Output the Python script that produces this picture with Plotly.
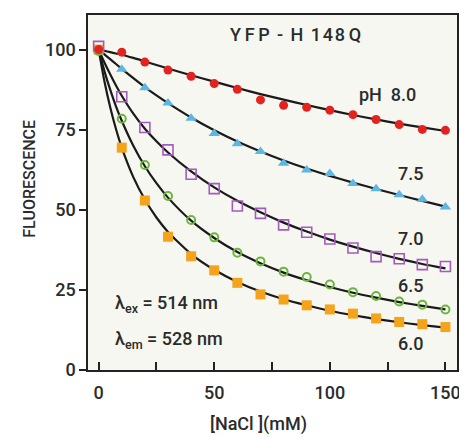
import plotly.graph_objects as go

# ---- data ----
nacl = [0, 10, 20, 30, 40, 50, 60, 70, 80, 90, 100, 110, 120, 130, 140, 150]

ph80 = [100, 99.2, 96.1, 93.6, 91.7, 89.4, 87.6, 84.3, 82.6, 82.0, 81.1, 79.7, 78.2, 76.6, 75.1, 74.8]
ph75 = [100, 93.9, 88.1, 83.3, 78.6, 73.8, 70.6, 68.2, 64.5, 62.4, 61.3, 58.2, 56.6, 54.7, 53.3, 50.9]
ph70 = [101, 85.3, 75.7, 68.7, 61.1, 56.6, 51.2, 48.9, 45.3, 43.0, 40.9, 38.1, 35.4, 34.7, 32.9, 32.3]
ph65 = [99.6, 78.4, 64.0, 54.3, 46.8, 41.4, 36.6, 33.9, 30.7, 29.0, 26.7, 24.3, 23.1, 21.4, 20.4, 18.9]
ph60 = [100, 69.4, 52.9, 41.6, 35.5, 31.1, 27.2, 23.6, 22.0, 20.2, 18.9, 17.6, 16.1, 15.0, 14.3, 13.4]

# fitted curves
nacl_fit = [0, 2.5, 5, 7.5, 10, 15, 20, 25, 30, 40, 50, 60, 70, 80, 90, 100, 110, 120, 130, 140, 150]
fit80 = [100, 99.6, 99.2, 98.8, 98.4, 97.4, 96.3, 95.2, 94.1, 92.0, 90.0, 88.0, 86.1, 84.4, 82.7, 81.1, 79.6, 78.2, 76.9, 75.7, 74.6]
fit75 = [100, 98.5, 97.0, 95.5, 94.0, 91.1, 88.3, 85.7, 83.3, 78.8, 74.8, 71.3, 68.2, 65.4, 62.9, 60.6, 58.5, 56.5, 54.6, 52.8, 51.0]
fit70 = [100, 96.0, 92.3, 88.8, 85.6, 80.0, 75.3, 71.4, 67.9, 62.0, 57.0, 52.8, 49.2, 46.0, 43.2, 40.7, 38.5, 36.5, 34.7, 33.1, 31.7]
fit65 = [100, 93.3, 87.5, 82.3, 77.8, 70.0, 63.6, 58.3, 53.8, 46.6, 41.2, 36.8, 33.3, 30.4, 28.0, 25.9, 24.1, 22.6, 21.2, 20.0, 18.9]
fit60 = [100, 90.1, 82.0, 75.2, 69.4, 60.2, 53.2, 47.6, 43.1, 36.2, 31.3, 27.5, 24.5, 22.1, 20.2, 18.5, 17.1, 15.9, 14.9, 14.0, 13.2]

x_ticks = [0, 50, 100, 150]
x_ticklabels = ["0", "50", "100", "150"]
y_ticks = [0, 25, 50, 75, 100]
y_ticklabels = ["0", "25", "50", "75", "100"]

ph_labels = ["pH  8.0", "7.5", "7.0", "6.5", "6.0"]
ph_label_x = [125, 135, 135, 135, 135]
ph_label_y = [86, 61.2, 41.0, 26.4, 8.4]

FONT = "Roboto, 'DejaVu Sans', sans-serif"
TXT = "#2b2b2b"
W = 500

fig = go.Figure()

for fy in [fit80, fit75, fit70, fit65, fit60]:
    fig.add_trace(go.Scatter(x=nacl_fit, y=fy, mode="lines", line=dict(color="#1a1a1a", width=2.2, shape="spline", smoothing=0.6),
                             hoverinfo="skip", showlegend=False))

fig.add_trace(go.Scatter(x=nacl, y=ph60, mode="markers", showlegend=False,
                         marker=dict(symbol="square", size=10, color="#f5a31b", line=dict(width=0))))
fig.add_trace(go.Scatter(x=nacl, y=ph65, mode="markers", showlegend=False,
                         marker=dict(symbol="circle-open", size=8, color="#6db53f", line=dict(width=2, color="#6db53f"))))
fig.add_trace(go.Scatter(x=nacl, y=ph70, mode="markers", showlegend=False,
                         marker=dict(symbol="square-open", size=10, color="#a45bbe", line=dict(width=1.6, color="#a45bbe"))))
fig.add_trace(go.Scatter(x=nacl, y=ph75, mode="markers", showlegend=False,
                         marker=dict(symbol="triangle-up", size=10, color="#5cb7e3", line=dict(width=0))))
fig.add_trace(go.Scatter(x=nacl, y=ph80, mode="markers", showlegend=False,
                         marker=dict(symbol="circle", size=9, color="#e3231f", line=dict(width=0))))

for t, xx, yy in zip(ph_labels, ph_label_x, ph_label_y):
    fig.add_annotation(x=xx, y=yy, text=t, showarrow=False, xanchor="center", yanchor="middle",
                       font=dict(family=FONT, size=18, color=TXT, weight=W))

fig.add_annotation(x=85, y=104.7, text="Y\u2009F\u2009P\u2009\u2009-\u2009\u2009H\u2009\u20091\u200a4\u200a8\u2009Q", showarrow=False,
                   font=dict(family=FONT, size=18, color=TXT, weight=W))
fig.add_annotation(x=6, y=20.5, xanchor="left", text="\u03bb<sub>ex</sub> = 514 nm", showarrow=False,
                   font=dict(family=FONT, size=18, color=TXT, weight=W))
fig.add_annotation(x=6, y=9.5, xanchor="left", text="\u03bb<sub>em</sub> = 528 nm", showarrow=False,
                   font=dict(family=FONT, size=18, color=TXT, weight=W))

fig.add_annotation(xref="paper", yref="paper", x=-0.19, y=0.54, text="FLUORESCENCE", textangle=-90,
                   showarrow=False, font=dict(family=FONT, size=16, color=TXT, weight=W))
fig.add_annotation(xref="paper", yref="paper", x=0.463, y=-0.152, text="[NaCl ](mM)",
                   showarrow=False, yanchor="middle", font=dict(family=FONT, size=18, color=TXT, weight=W))

fig.update_xaxes(range=[-4.6, 155], tickmode="array", tickvals=x_ticks, ticktext=x_ticklabels,
                 ticks="inside", ticklen=8, tickwidth=1.5, tickcolor="#222",
                 minor=dict(ticks="inside", ticklen=8, tickwidth=1.5, tickcolor="#222", tick0=0, dtick=25, showgrid=False),
                 showline=True, linecolor="#222", linewidth=1.5, mirror=True,
                 showgrid=False, zeroline=False, ticklabelstandoff=6,
                 tickfont=dict(family=FONT, size=18, color=TXT, weight=W))
fig.update_yaxes(range=[0, 110.8], tickmode="array", tickvals=y_ticks, ticktext=y_ticklabels,
                 ticks="outside", ticklen=7, tickwidth=1.5, tickcolor="#222",
                 showline=True, linecolor="#222", linewidth=1.5, mirror=True,
                 showgrid=False, zeroline=False,
                 tickfont=dict(family=FONT, size=18, color=TXT, weight=W))

# page body has an 8px margin, so the figure is drawn 8px smaller and offset
fig.update_layout(width=459, height=430, margin=dict(l=80, r=10, t=5, b=68),
                  plot_bgcolor="#f6f7f0", paper_bgcolor="white")

fig.write_html("out.html")
